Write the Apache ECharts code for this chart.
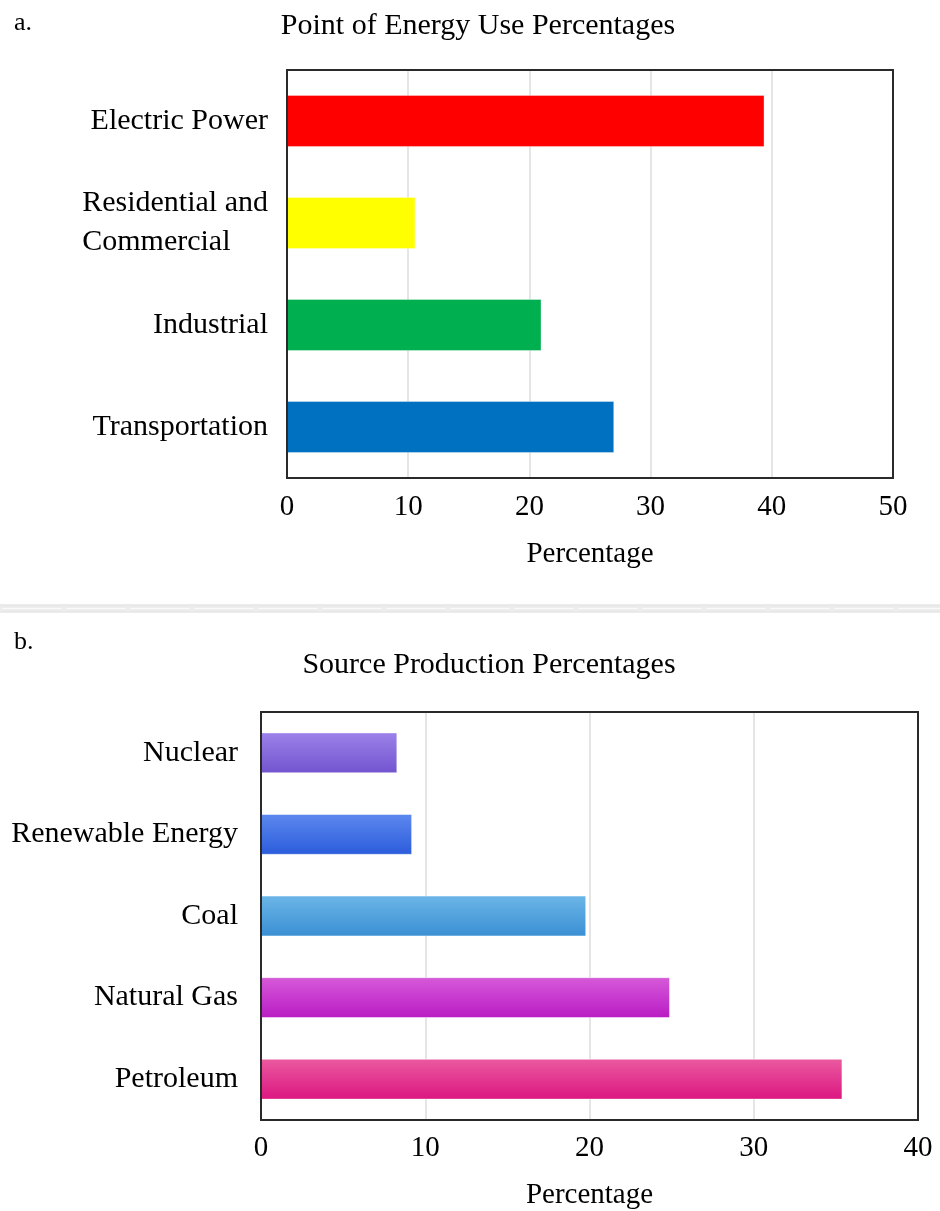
<!DOCTYPE html>
<html>
<head>
<meta charset="utf-8">
<script src="https://cdn.jsdelivr.net/npm/echarts@6/dist/echarts.min.js"></script>
<style>html,body{margin:0;padding:0;background:#fff;}#c{width:940px;height:1211px;}</style>
</head>
<body>
<div id="c"></div>
<script>
const useCategories = ['Transportation', 'Industrial', 'Residential and\nCommercial', 'Electric Power'];
const useValues = [27.0, 21.0, 10.6, 39.4];
const useColors = ['#0070c0', '#00b050', '#ffff00', '#ff0000'];
const useTicks = [0, 10, 20, 30, 40, 50];

const srcCategories = ['Petroleum', 'Natural Gas', 'Coal', 'Renewable Energy', 'Nuclear'];
const srcValues = [35.4, 24.9, 19.8, 9.2, 8.3];
const srcColorsTop = ['#ea5aa0', '#d65ad9', '#6cb6e8', '#5d88ef', '#9c82e9'];
const srcColorsBottom = ['#dc1680', '#b91cc4', '#3a8fd3', '#2b5cdb', '#7254cf'];
const srcTicks = [0, 10, 20, 30, 40];

const FONT = '"Liberation Serif", "DejaVu Serif", serif';
const FS = 29;
const FSY = 30;
const chart = echarts.init(document.getElementById('c'), null, {renderer: 'canvas'});

function grad(i) {
  return new echarts.graphic.LinearGradient(0, 0, 0, 1, [
    {offset: 0, color: srcColorsTop[i]},
    {offset: 1, color: srcColorsBottom[i]}
  ]);
}

const sepSegs = [];
for (let x = 0; x < 940; x += 64) {
  sepSegs.push({type: 'rect', shape: {x: x + 1, y: 607, width: 62, height: 3},
    style: {fill: '#fafafa', stroke: '#e2e2e2', lineWidth: 1}, z: 1});
}

chart.setOption({
  backgroundColor: '#fff',
  animation: false,
  textStyle: {fontFamily: FONT, color: '#000'},
  title: [
    {text: 'Point of Energy Use Percentages', left: 473, textAlign: 'center', top: 6,
     textStyle: {fontFamily: FONT, fontSize: 30, fontWeight: 'normal', color: '#000'}},
    {text: 'Source Production Percentages', left: 484, textAlign: 'center', top: 645,
     textStyle: {fontFamily: FONT, fontSize: 30, fontWeight: 'normal', color: '#000'}},
    {text: 'a.', left: 9, top: 5, textStyle: {fontFamily: FONT, fontSize: 26, fontWeight: 'normal', color: '#000'}},
    {text: 'b.', left: 9, top: 624, textStyle: {fontFamily: FONT, fontSize: 26, fontWeight: 'normal', color: '#000'}}
  ],
  graphic: [
    {type: 'rect', shape: {x: -2, y: 605, width: 944, height: 7},
     style: {fill: '#f4f4f4', stroke: '#dadada', lineWidth: 1}, z: 0}
  ].concat(sepSegs),
  grid: [
    {left: 287, top: 70, width: 606, height: 408, show: true, borderColor: '#2a2a2a', borderWidth: 2, containLabel: false, z: 3},
    {left: 261, top: 712, width: 657, height: 408, show: true, borderColor: '#2a2a2a', borderWidth: 2, containLabel: false, z: 3}
  ],
  xAxis: [
    {type: 'value', gridIndex: 0, min: 0, max: 50, interval: 10,
     name: 'Percentage', nameLocation: 'middle', nameGap: 62,
     nameTextStyle: {fontFamily: FONT, fontSize: FS, color: '#000'},
     axisLine: {show: false}, axisTick: {show: false},
     axisLabel: {fontFamily: FONT, fontSize: FS, color: '#000', margin: 15,
                 formatter: v => useTicks.includes(v) ? String(v) : ''},
     splitLine: {show: true, showMinLine: false, showMaxLine: false, lineStyle: {color: '#dcdcdc', width: 1.5}}},
    {type: 'value', gridIndex: 1, min: 0, max: 40, interval: 10,
     name: 'Percentage', nameLocation: 'middle', nameGap: 61,
     nameTextStyle: {fontFamily: FONT, fontSize: FS, color: '#000'},
     axisLine: {show: false}, axisTick: {show: false},
     axisLabel: {fontFamily: FONT, fontSize: FS, color: '#000', margin: 14,
                 formatter: v => srcTicks.includes(v) ? String(v) : ''},
     splitLine: {show: true, showMinLine: false, showMaxLine: false, lineStyle: {color: '#dcdcdc', width: 1.5}}}
  ],
  yAxis: [
    {type: 'category', gridIndex: 0, data: useCategories,
     axisLine: {show: false}, axisTick: {show: false},
     axisLabel: {fontFamily: FONT, fontSize: FSY, color: '#000', margin: 19, lineHeight: 39,
       formatter: v => v.indexOf('\n') >= 0 ? v.split('\n').map(s => '{l|' + s + '}').join('\n') : v,
       rich: {l: {align: 'left', fontFamily: FONT, fontSize: FSY, color: '#000', lineHeight: 39}}}},
    {type: 'category', gridIndex: 1, data: srcCategories,
     axisLine: {show: false}, axisTick: {show: false},
     axisLabel: {fontFamily: FONT, fontSize: FSY, color: '#000', margin: 23}}
  ],
  series: [
    {type: 'bar', xAxisIndex: 0, yAxisIndex: 0, barWidth: '51%',
     data: useValues.map((v, i) => ({value: v, itemStyle: {color: useColors[i]}})),
     itemStyle: {borderColor: 'rgba(255,255,255,0.35)', borderWidth: 1}},
    {type: 'bar', xAxisIndex: 1, yAxisIndex: 1, barWidth: '50%',
     data: srcValues.map((v, i) => ({value: v, itemStyle: {color: grad(i)}})),
     itemStyle: {borderColor: 'rgba(255,255,255,0.45)', borderWidth: 1}}
  ]
});
</script>
</body>
</html>
